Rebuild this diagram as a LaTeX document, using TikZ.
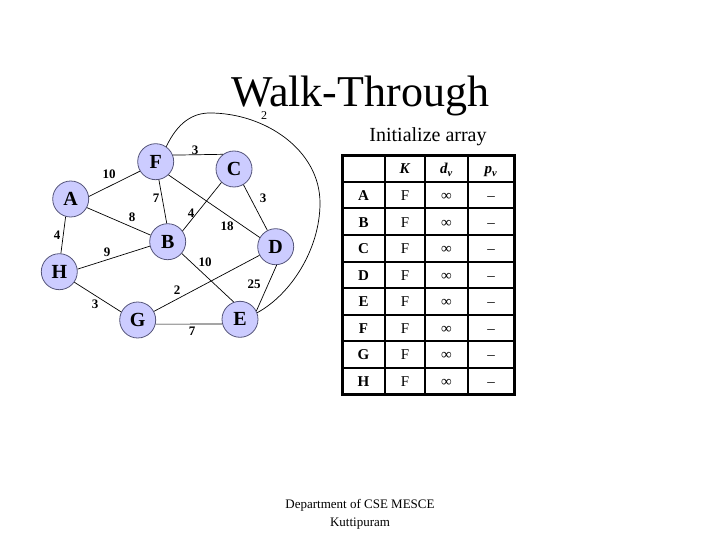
\documentclass[tikz,border=0pt]{standalone}
\usepackage{fontspec}
\setmainfont{Liberation Serif}
\usetikzlibrary{positioning,calc}
\definecolor{vtxFill}{HTML}{CCCCFF}
\definecolor{vtxLine}{HTML}{55557A}

\begin{document}
\begin{tikzpicture}[x=1pt,y=-1pt,
  vtx/.style={circle, draw=vtxLine, line width=0.8pt, fill=vtxFill,
    minimum size=36pt, inner sep=0pt, font=\fontsize{20}{24}\selectfont\bfseries},
  wt/.style={inner sep=0.5pt, font=\fontsize{13}{15}\selectfont\bfseries},
  link/.style={line width=0.7pt},
  cell/.style={inner sep=0pt, anchor=base, font=\fontsize{15}{18}\selectfont}]

\useasboundingbox (0,0) rectangle (720,540);

% --- TITLE ---
\node[anchor=base, font=\fontsize{44}{50}\selectfont] (title) at (360,107) {Walk-Through};
\node[anchor=base, inner sep=0pt, font=\fontsize{12}{14}\selectfont] (sub) at (264,120) {2};

% --- GRAPH NODES ---
\foreach \n/\x/\y in {F/155.7/161.7, C/234/169, A/70.7/199, B/167.7/241.7,
                      D/275.7/246.7, H/59.3/271.7, G/137.7/320, E/240/319.3}
  \node[vtx] (\n) at (\x,\y) {\n};

% --- EDGES ---
\foreach \s/\t in {A.8/F.211, F.21/C.127, F.280/B.93, A.332/B.159, F.314/D.150,
                   C.227/B.36, C.301/D.117, A.254/H.85, H.8/B.194, B.320/E.110,
                   G.28/D.208, D.273/E.27, H.325/G.154, G.347/E.195}
  \draw[link] (\s) -- (\t);

% long arc F -> E
\draw[link] (F.55) .. controls (178,122) and (193,113) .. (210,113)
  .. controls (265,113) and (320,150) .. (320,203)
  .. controls (320,250) and (290,295) .. (E.21);

% --- WEIGHTS ---
\foreach \w/\x/\y/\nm in {10/109/174/af, 3/195/150/fc, 7/156/198/fb, 8/132/217/ab,
                          4/191/213/cb, 18/227/226/fd, 3/263/198/cd, 4/57/235/ah,
                          9/107/252/hb, 10/205/262/be, 2/177/290/gd, 25/254/284/de,
                          3/95/304/hg, 7/192/331/ge}
  \node[wt] (w\nm) at (\x,\y) {\w};

% --- TABLE ---
\node[anchor=base, font=\fontsize{20}{24}\selectfont] (caption) at (428,142) {Initialize array};

\foreach \cx in {385,425,468}
  \draw[line width=2pt] (\cx,156) -- (\cx,394);
\foreach \i in {0,...,7} {
  \pgfmathsetmacro\ry{182+26.5*\i}
  \draw[line width=2pt] (342,\ry) -- (514,\ry);
}
\draw[line width=3pt] (342,156) rectangle (514,394);

\node[cell] (hK) at (405,174) {\textbf{\textit{K}}};
\node[cell] (hD) at (446.5,174) {\textbf{\textit{d}}\textsubscript{\textbf{\textit{v}}}};
\node[cell] (hP) at (491,174) {\textbf{\textit{p}}\textsubscript{\textbf{\textit{v}}}};

\foreach \r [count=\i] in {A,...,H} {
  \pgfmathsetmacro\ry{182+26.5*(\i-0.5)+5.5}
  \node[cell, font=\fontsize{15}{18}\selectfont\bfseries] (row\r) at (363.5,\ry) {\r};
  \node[cell] (k\r) at (405,\ry) {F};
  \node[cell] (d\r) at (446.5,\ry) {∞};
  \node[cell] (p\r) at (491,\ry) {--};
}

% --- FOOTER ---
\node[anchor=base, font=\fontsize{13}{15}\selectfont] (dept) at (360,508) {Department of CSE MESCE};
\node[anchor=base, font=\fontsize{13}{15}\selectfont] (place) at (360,526) {Kuttipuram};

\end{tikzpicture}
\end{document}
